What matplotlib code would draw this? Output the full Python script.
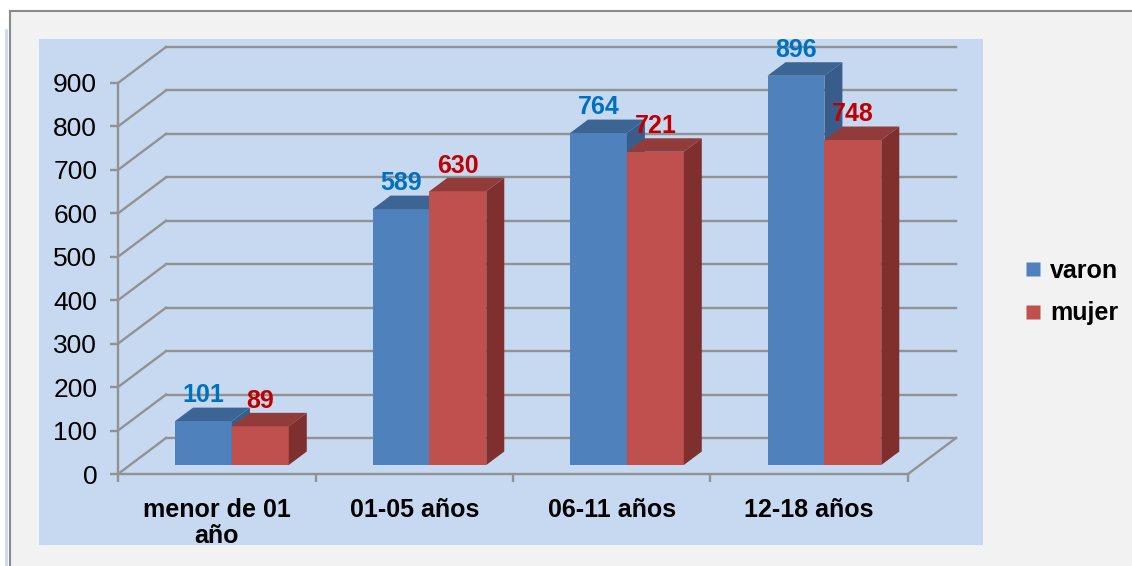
import matplotlib
matplotlib.use("Agg")
import matplotlib.pyplot as plt
from matplotlib.patches import Rectangle, Polygon
from matplotlib.lines import Line2D
import numpy as np

plt.rcParams['font.family'] = ['Liberation Sans', 'DejaVu Sans']

categories = ["menor de 01\naño", "01-05 años", "06-11 años", "12-18 años"]
varon = [101, 589, 764, 896]
mujer = [89, 630, 721, 748]
y_ticks = [0, 100, 200, 300, 400, 500, 600, 700, 800, 900]

W, H = 1132, 566
fig = plt.figure(figsize=(W / 100, H / 100), dpi=100, facecolor="white")

# background frame (grey) and plot panel (light blue)
fig.patches.append(Rectangle((10 / W, 0), 1 - 10 / W, (H - 11) / H, transform=fig.transFigure,
                             facecolor="#f2f2f2", edgecolor="none", zorder=-3))
fig.add_artist(Line2D([10 / W, 1], [(H - 11) / H] * 2, color="#8a8a8a", lw=1.5))
fig.add_artist(Line2D([10 / W] * 2, [0, (H - 11) / H], color="#8a8a8a", lw=1.5))
fig.add_artist(Line2D([6 / W] * 2, [0, (H - 30) / H], color="#c6d9f1", lw=2))
fig.patches.append(Rectangle((39 / W, (H - 545) / H), (983 - 39) / W, (545 - 39) / H,
                             transform=fig.transFigure, facecolor="#c6d9f1",
                             edgecolor="none", zorder=-2))

# front plane of the plot
x0, x1, yb, yt = 118, 908, 474, 83
ax = fig.add_axes([x0 / W, (H - yb) / H, (x1 - x0) / W, (yb - yt) / H])
ax.set_facecolor("none")
ax.set_xlim(0, len(categories))
ax.set_ylim(0, 900)

# pixel -> data conversion
px_x = len(categories) / (x1 - x0)
px_y = 900 / (yb - yt)

grid_c = "#929292"
wall_dx, wall_dy = 48 * px_x, 36 * px_y

# back wall gridlines + floor diagonals
for v in y_ticks:
    ax.plot([0, wall_dx], [v, v + wall_dy], color=grid_c, lw=1.7, clip_on=False, zorder=1)
    ax.plot([wall_dx, len(categories) + wall_dx], [v + wall_dy] * 2, color=grid_c, lw=1.7,
            clip_on=False, zorder=1)
ax.plot([len(categories), len(categories) + wall_dx], [0, wall_dy], color=grid_c, lw=1.7,
        clip_on=False, zorder=1)

# spines and ticks
for s in ["top", "right"]:
    ax.spines[s].set_visible(False)
for s in ["left", "bottom"]:
    ax.spines[s].set_color(grid_c)
    ax.spines[s].set_linewidth(1.7)
ax.set_yticks(y_ticks)
ax.set_yticklabels([str(v) for v in y_ticks], fontsize=19)
ax.tick_params(axis="y", length=6, width=1.7, color=grid_c, pad=9)
ax.set_xticks(np.arange(len(categories) + 1))
ax.set_xticklabels([])
ax.tick_params(axis="x", which="major", length=6, width=1.7, color=grid_c)
ax.set_xticks(np.arange(len(categories)) + 0.5, minor=True)
ax.set_xticklabels(categories, minor=True, fontsize=18, fontweight="bold")
ax.tick_params(axis="x", which="minor", length=0, pad=17)
for lab in ax.get_xticklabels(minor=True):
    lab.set_va("top")
    lab.set_linespacing(1.15)

# bars with a fake depth
off_x, off_y = 12 * px_x, 9 * px_y
dep_x, dep_y = 18 * px_x, 13.5 * px_y
bw = 0.288
series = [
    (varon, 0.228, ("#4f81bd", "#3c6594", "#385d8a"), "#0070c0", "varon"),
    (mujer, 0.228 + bw, ("#c0504d", "#913c3a", "#7f302e"), "#c00000", "mujer"),
]
xs = np.arange(len(categories))
for i in range(len(categories)):
    for vals, shift, (c_front, c_top, c_side), c_lab, _ in series:
        v = vals[i]
        left = xs[i] + shift + off_x
        right = left + bw
        ax.bar(left, v, bw, bottom=off_y, align="edge", color=c_front, zorder=3, clip_on=False)
        ax.add_patch(Polygon([(left, v + off_y), (right, v + off_y),
                              (right + dep_x, v + off_y + dep_y), (left + dep_x, v + off_y + dep_y)],
                             closed=True, facecolor=c_top, edgecolor="none", zorder=3, clip_on=False))
        ax.add_patch(Polygon([(right, off_y), (right, v + off_y),
                              (right + dep_x, v + off_y + dep_y), (right + dep_x, off_y + dep_y)],
                             closed=True, facecolor=c_side, edgecolor="none", zorder=3, clip_on=False))
        ax.annotate(str(v), xy=((left + right) / 2, v + off_y), xytext=(0, 18.5),
                    textcoords="offset points", ha="center", va="center",
                    fontsize=18, fontweight="bold", color=c_lab, zorder=5, annotation_clip=False)

# legend
handles = [Line2D([], [], marker="s", linestyle="none", markersize=10,
                  markerfacecolor=s[2][0], markeredgecolor="none") for s in series]
fig.legend(handles, [s[4] for s in series], loc="center left",
           bbox_to_anchor=(1014 / W, (H - 292) / H), frameon=False,
           prop={"size": 18, "weight": "bold"}, handlelength=0.55, handletextpad=0.4,
           labelspacing=0.75, borderpad=0)

fig.savefig("out.png", dpi=100, facecolor="white")
